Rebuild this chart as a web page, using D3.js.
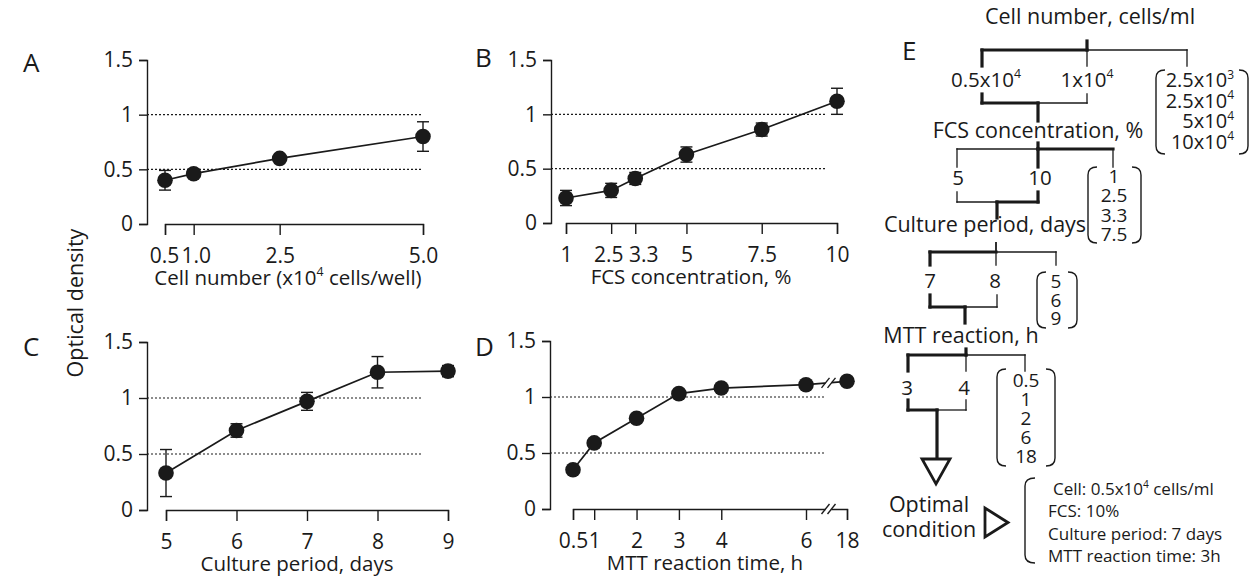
<!DOCTYPE html>
<html>
<head>
<meta charset="utf-8">
<script src="https://cdn.jsdelivr.net/npm/d3@7"></script>
<style>
  body { margin: 0; background: #fff; }
  svg text { font-family: "Open Sans", sans-serif; font-weight: 500; fill: #1a1a1a; }
</style>
</head>
<body>
<div id="fig"></div>
<script>
// ---- data ----
const odTicks = [0, 0.5, 1, 1.5];
const refLevels = [0.5, 1];

// A: cell number
const cellNumber = [0.5, 1.0, 2.5, 5.0];
const cellOD = [0.40, 0.46, 0.60, 0.80];
const cellErr = [0.09, 0.03, 0.02, 0.135];

// B: FCS concentration
const fcsConc = [1, 2.5, 3.3, 5, 7.5, 10];
const fcsOD = [0.23, 0.30, 0.41, 0.63, 0.86, 1.12];
const fcsErr = [0.07, 0.065, 0.055, 0.07, 0.06, 0.12];

// C: culture period
const cultureDays = [5, 6, 7, 8, 9];
const cultureOD = [0.33, 0.71, 0.97, 1.23, 1.24];
const cultureErr = [0.21, 0.06, 0.08, 0.14, 0.05];

// D: MTT reaction time (axis broken between 6 and 18)
const mttHours = [0.5, 1, 2, 3, 4, 6, 18];
const mttOD = [0.35, 0.59, 0.81, 1.03, 1.08, 1.11, 1.14];
const mttErr = [0, 0, 0, 0, 0, 0, 0];

// E: optimisation scheme
const eStages = ["Cell number, cells/ml", "FCS concentration, %", "Culture period, days", "MTT reaction, h"];
const eCandidates = [["0.5x10⁴", "1x10⁴"], ["5", "10"], ["7", "8"], ["3", "4"]];
const eRejected = [["2.5x10³", "2.5x10⁴", "5x10⁴", "10x10⁴"], ["1", "2.5", "3.3", "7.5"], ["5", "6", "9"], ["0.5", "1", "2", "6", "18"]];
const optimalLabel = ["Optimal", "condition"];
const optimalConditions = ["Cell: 0.5x10⁴ cells/ml", "FCS: 10%", "Culture period: 7 days", "MTT reaction time: 3h"];

// ---- drawing ----
const W = 1250, H = 579;
const ink = "#1a1a1a";
const svg = d3.select("#fig").append("svg")
    .attr("width", W)
    .attr("height", H)
    .attr("viewBox", [0, 0, W, H]);

const supMap = {"⁰":"0","¹":"1","²":"2","³":"3","⁴":"4","⁵":"5","⁶":"6","⁷":"7","⁸":"8","⁹":"9"};

// text with superscript digits as raised tspans
function richText(sel, str, size) {
  const parts = str.match(/[⁰¹²³⁴⁵⁶⁷⁸⁹]+|[^⁰¹²³⁴⁵⁶⁷⁸⁹]+/g);
  let raised = false;
  parts.forEach(p => {
    const isSup = /[⁰¹²³⁴⁵⁶⁷⁸⁹]/.test(p);
    const t = sel.append("tspan").text(isSup ? [...p].map(c => supMap[c]).join("") : p);
    if (isSup) {
      t.style("font-size", (size * 0.6) + "px").attr("dy", -size * 0.42);
      raised = true;
    } else if (raised) {
      t.attr("dy", size * 0.42);
      raised = false;
    }
  });
  if (raised) sel.append("tspan").attr("dy", size * 0.42).text("");
  return sel;
}

// several lines in one text element
function multiLine(parent, lines, x, y0, dy, size, anchor) {
  const t = parent.append("text")
      .attr("text-anchor", anchor)
      .style("font-size", size + "px");
  lines.forEach((line, k) => {
    const ts = t.append("tspan").attr("x", x).attr("y", y0 + k * dy);
    richText(ts, line, size);
  });
  return t;
}

function styleAxis(g) {
  g.attr("font-family", null).attr("font-size", null);
  g.selectAll("path.domain").attr("stroke", ink).attr("stroke-width", 1.4);
  g.selectAll(".tick line").attr("stroke", ink).attr("stroke-width", 1.4);
  g.selectAll(".tick text").attr("fill", ink).style("font-size", "21px");
}

function panel(o) {
  const g = svg.append("g");
  const xs = d3.scaleLinear().domain(o.xDomain).range(o.xRange);
  const ys = d3.scaleLinear().domain([0, 1.5]).range(o.yRange);

  // dotted reference lines
  g.selectAll("line.ref")
    .data(refLevels)
    .join("line")
      .attr("class", "ref")
      .attr("x1", o.axisX).attr("x2", o.gridEnd)
      .attr("y1", d => ys(d)).attr("y2", d => ys(d))
      .attr("stroke", ink)
      .attr("stroke-width", 1.2)
      .attr("stroke-dasharray", "2,2");

  // y axis
  g.append("g")
      .attr("transform", `translate(${o.axisX},0)`)
      .call(d3.axisLeft(ys).tickValues(odTicks).tickFormat(d3.format("")).tickSize(8).tickPadding(6))
      .call(styleAxis);

  // x axis (offset, starts at first tick)
  const xg = g.append("g")
      .attr("transform", `translate(0,${ys(0)})`)
      .call(d3.axisBottom(xs).tickValues(o.x).tickFormat(o.fmt).tickSize(11).tickPadding(13))
      .call(styleAxis);
  // nudge crowded tick labels apart
  if (o.labelShift) {
    xg.selectAll(".tick text").attr("dx", d => o.labelShift[d] || 0);
  }

  const idx = d3.range(o.x.length);

  // connecting line
  const line = d3.line().x(i => xs(o.x[i])).y(i => ys(o.y[i]));
  g.append("path")
      .attr("d", line(idx))
      .attr("fill", "none")
      .attr("stroke", ink)
      .attr("stroke-width", 1.7);

  // error bars
  const eb = g.append("g").attr("stroke", ink).attr("stroke-width", 1.4);
  idx.filter(i => o.err[i] > 0).forEach(i => {
    const cx = xs(o.x[i]);
    const y1 = ys(o.y[i] - o.err[i]), y2 = ys(o.y[i] + o.err[i]);
    eb.append("line").attr("x1", cx).attr("x2", cx).attr("y1", y1).attr("y2", y2);
    eb.append("line").attr("x1", cx - 6).attr("x2", cx + 6).attr("y1", y1).attr("y2", y1);
    eb.append("line").attr("x1", cx - 6).attr("x2", cx + 6).attr("y1", y2).attr("y2", y2);
  });

  // markers
  g.append("g")
    .selectAll("circle")
    .data(idx)
    .join("circle")
      .attr("cx", i => xs(o.x[i]))
      .attr("cy", i => ys(o.y[i]))
      .attr("r", 7.8)
      .attr("fill", ink);

  // axis break marks
  if (o.breakBetween) {
    const [a, b] = o.breakBetween;
    const bx = (xs(o.x[a]) + xs(o.x[b])) / 2 + 2;
    const lineY = ys(o.y[a]) + (ys(o.y[b]) - ys(o.y[a])) * (bx - xs(o.x[a])) / (xs(o.x[b]) - xs(o.x[a]));
    [ys(0), lineY].forEach(by => {
      g.append("rect").attr("x", bx - 3).attr("y", by - 3).attr("width", 6).attr("height", 6).attr("fill", "#fff");
      [-3, 3].forEach(off => {
        g.append("line")
          .attr("x1", bx + off - 4).attr("y1", by + 5)
          .attr("x2", bx + off + 4).attr("y2", by - 5)
          .attr("stroke", ink).attr("stroke-width", 1.4);
      });
    });
  }

  // axis title
  richText(g.append("text")
      .attr("x", o.titleX)
      .attr("y", ys(0) + 61)
      .attr("text-anchor", "middle")
      .style("font-size", "20.5px"), o.title, 20.5);

  // panel letter
  g.append("text")
      .attr("x", o.letterPos[0])
      .attr("y", o.letterPos[1])
      .style("font-size", "26px")
      .style("font-weight", 400)
      .text(o.letter);
}

panel({
  x: cellNumber, y: cellOD, err: cellErr,
  xDomain: [0.5, 5], xRange: [165, 423], yRange: [224, 60],
  axisX: 147, gridEnd: 423, fmt: d3.format(".1f"),
  labelShift: {0.5: -1, 1: 2},
  title: "Cell number (x10⁴ cells/well)", titleX: 288,
  letter: "A", letterPos: [23, 72]
});

panel({
  x: fcsConc, y: fcsOD, err: fcsErr,
  xDomain: [1, 10], xRange: [566, 837], yRange: [223, 60],
  axisX: 551, gridEnd: 827, fmt: d3.format(""),
  labelShift: {2.5: -3, 3.3: 8},
  title: "FCS concentration, %", titleX: 691,
  letter: "B", letterPos: [475, 67]
});

panel({
  x: cultureDays, y: cultureOD, err: cultureErr,
  xDomain: [5, 9], xRange: [166, 448], yRange: [510, 342],
  axisX: 147, gridEnd: 423, fmt: d3.format(""),
  title: "Culture period, days", titleX: 297,
  letter: "C", letterPos: [23, 356]
});

panel({
  x: mttHours, y: mttOD, err: mttErr,
  xDomain: [0.5, 6, 18], xRange: [573, 806, 847], yRange: [509, 341],
  axisX: 550, gridEnd: 825, fmt: d3.format(""),
  title: "MTT reaction time, h", titleX: 705,
  letter: "D", letterPos: [475, 356],
  breakBetween: [5, 6]
});

// shared y title
svg.append("text")
    .attr("transform", "translate(83,303) rotate(-90)")
    .attr("text-anchor", "middle")
    .style("font-size", "21.5px")
    .text("Optical density");

// ---- panel E: decision tree ----
const eg = svg.append("g");
const THICK = 3.2, THIN = 1.3;
const titleSize = 21.5, candSize = 20.5;

function seg(x1, y1, x2, y2, w) {
  eg.append("line")
    .attr("x1", x1).attr("y1", y1).attr("x2", x2).attr("y2", y2)
    .attr("stroke", ink).attr("stroke-width", w)
    .attr("stroke-linecap", "square");
}

function paren(x1, y1, x2, y2, side) {
  const r = 8;
  const d = side === "left"
    ? `M${x2},${y1} Q${x1},${y1} ${x1},${y1 + r} V${y2 - r} Q${x1},${y2} ${x2},${y2}`
    : `M${x1},${y1} Q${x2},${y1} ${x2},${y1 + r} V${y2 - r} Q${x2},${y2} ${x1},${y2}`;
  eg.append("path").attr("d", d).attr("fill", "none").attr("stroke", ink).attr("stroke-width", 1.4);
}

// layout of each stage of the scheme
const eLayout = [
  { title: [1090, 24], barY: 50, stub: 41, L: 982, M: 1087, R: 1187, drop: 16, thickLM: true,
    vW: [THICK, THIN, THIN], candX: [986, 1087], candY: 87,
    rejX: 1234, rejAnchor: "end", rejY: 87, rejDy: 20.5, rejSize: 20, box: [1156, 70, 1248, 154],
    merge: { y: 103, top: 94, A: 982, B: 1087, X: 1038, chosenLeft: true, down: 121 } },
  { title: [1038, 138], barY: 149, stub: 143, L: 957, M: 1038, R: 1113, drop: 18, thickLM: false,
    vW: [THIN, THICK, THIN], candX: [958, 1040], candY: 185,
    rejX: 1114, rejAnchor: "middle", rejY: 183, rejDy: 19.3, rejSize: 19, box: [1088, 167, 1141, 243],
    merge: { y: 202, top: 192, A: 957, B: 1038, X: 997, chosenLeft: false, down: 218 } },
  { title: [985, 232], barY: 252, stub: 243, L: 930, M: 996, R: 1056, drop: 13, thickLM: true,
    vW: [THICK, THIN, THIN], candX: [930, 995], candY: 288,
    rejX: 1056, rejAnchor: "middle", rejY: 288, rejDy: 18.5, rejSize: 19, box: [1037, 272, 1077, 328],
    merge: { y: 307, top: 295, A: 930, B: 997, X: 965, chosenLeft: true, down: 323 } },
  { title: [961, 343], barY: 355, stub: 349, L: 908, M: 966, R: 1025, drop: 16, thickLM: true,
    vW: [THICK, THIN, THIN], candX: [907, 964], candY: 395,
    rejX: 1026, rejAnchor: "middle", rejY: 387, rejDy: 19, rejSize: 19, box: [997, 369, 1055, 466],
    merge: { y: 410, top: 400, A: 908, B: 966, X: 937, chosenLeft: true, down: 458 } }
];

eLayout.forEach((s, i) => {
  eg.append("text")
      .attr("x", s.title[0]).attr("y", s.title[1])
      .attr("text-anchor", "middle")
      .style("font-size", titleSize + "px")
      .text(eStages[i]);

  // split bar
  seg(s.M, s.stub, s.M, s.barY, i === 2 ? 1.8 : THICK);
  seg(s.L, s.barY, s.M, s.barY, s.thickLM ? THICK : THIN);
  seg(s.M, s.barY, s.R, s.barY, s.thickLM ? THIN : THICK);
  [s.L, s.M, s.R].forEach((x, k) => seg(x, s.barY, x, s.barY + s.drop, s.vW[k]));

  // candidates kept for the next round
  eCandidates[i].forEach((c, k) => {
    richText(eg.append("text")
        .attr("x", s.candX[k]).attr("y", s.candY)
        .attr("text-anchor", "middle")
        .style("font-size", candSize + "px"), c, candSize);
  });

  // rejected values in brackets
  multiLine(eg, eRejected[i], s.rejX, s.rejY, s.rejDy, s.rejSize, s.rejAnchor);
  const [bx1, by1, bx2, by2] = s.box;
  paren(bx1, by1, bx1 + 9, by2, "left");
  paren(bx2 - 9, by1, bx2, by2, "right");

  // merge to chosen value
  const m = s.merge;
  seg(m.A, m.top, m.A, m.y, m.chosenLeft ? THICK : THIN);
  seg(m.B, m.top, m.B, m.y, m.chosenLeft ? THIN : THICK);
  seg(m.A, m.y, m.X, m.y, m.chosenLeft ? THICK : THIN);
  seg(m.X, m.y, m.B, m.y, m.chosenLeft ? THIN : THICK);
  seg(m.X, m.y, m.X, m.down, THICK);
});

// arrow heads
eg.append("path")
    .attr("d", "M922,459 L950,459 L936,484 Z")
    .attr("fill", "#fff").attr("stroke", ink).attr("stroke-width", 2.8)
    .attr("stroke-linejoin", "miter");
eg.append("path")
    .attr("d", "M985,508 L985,537 L1008,522.5 Z")
    .attr("fill", "#fff").attr("stroke", ink).attr("stroke-width", 2.8);

multiLine(eg, optimalLabel, 929, 512, 25, titleSize, "middle");

paren(1025, 478, 1035, 563, "left");
multiLine(eg, optimalConditions, 1048, 495, 22.3, 17, "start")
  .select("tspan").attr("x", 1053);

// panel letter E
eg.append("text").attr("x", 902).attr("y", 60).style("font-size", "26px").style("font-weight", 400).text("E");
</script>
</body>
</html>
